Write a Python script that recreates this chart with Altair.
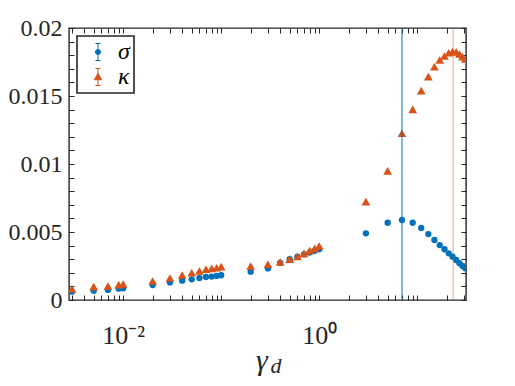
import altair as alt
import pandas as pd

# ---- data ----
gamma = [0.003, 0.005, 0.007, 0.009, 0.01,
         0.02, 0.03, 0.04, 0.05, 0.06, 0.07, 0.08, 0.09, 0.1,
         0.2, 0.3, 0.4, 0.5, 0.6, 0.7, 0.8, 0.9, 1.0,
         3, 5, 7, 9, 11, 13, 15, 17, 19, 21, 23, 25, 27, 29, 31]
sigma = [0.00061, 0.00068, 0.00074, 0.00083, 0.00086,
         0.00110, 0.00129, 0.00142, 0.00152, 0.00162, 0.00169, 0.00172, 0.00177, 0.00182,
         0.00208, 0.00232, 0.00272, 0.00300, 0.00318, 0.00335, 0.00348, 0.00362, 0.00373,
         0.00490, 0.00568, 0.00588, 0.00568, 0.00530, 0.00485, 0.00441, 0.00404, 0.00373,
         0.00343, 0.00318, 0.00294, 0.00270, 0.00250, 0.00233]
kappa = [0.00081, 0.00098, 0.00103, 0.00112, 0.00118,
         0.00140, 0.00162, 0.00184, 0.00200, 0.00213, 0.00226, 0.00233, 0.00237, 0.00245,
         0.00250, 0.00263, 0.00280, 0.00301, 0.00320, 0.00343, 0.00363, 0.00380, 0.00397,
         0.00723, 0.00949, 0.01226, 0.01402, 0.01539, 0.01642, 0.01715, 0.01765, 0.01794,
         0.01818, 0.01827, 0.01824, 0.01809, 0.01790, 0.01772]
series_names = ["σ", "κ"]
series_colors = ["#0072BD", "#D95319"]

vline_x = [7.0, 23.3]
vline_color = ["#0072BD", "#D95319"]
vline_opacity = [1.0, 0.5]

x_ticks = [0.003, 0.004, 0.005, 0.006, 0.007, 0.008, 0.009, 0.01,
           0.02, 0.03, 0.04, 0.05, 0.06, 0.07, 0.08, 0.09, 0.1,
           0.2, 0.3, 0.4, 0.5, 0.6, 0.7, 0.8, 0.9, 1,
           2, 3, 4, 5, 6, 7, 8, 9, 10, 20, 30]
y_ticks = [0, 0.001, 0.002, 0.003, 0.004, 0.005, 0.006, 0.007, 0.008, 0.009, 0.01,
           0.011, 0.012, 0.013, 0.014, 0.015, 0.016, 0.017, 0.018, 0.019, 0.02]

XDOM = [0.0028, 31.5]
YDOM = [0, 0.02]

df = pd.DataFrame({
    "gamma": gamma + gamma,
    "value": sigma + kappa,
    "series": [series_names[0]] * len(gamma) + [series_names[1]] * len(gamma),
})
df_sigma = pd.DataFrame({"gamma": gamma, "value": sigma})
df_kappa = pd.DataFrame({"gamma": gamma, "value": kappa})
vdf = pd.DataFrame({"gamma": vline_x, "c": vline_color, "o": vline_opacity})

FONT = "Liberation Serif"
AX = "#262626"
TS = 5

xscale = alt.Scale(type="log", domain=XDOM, nice=False)
yscale = alt.Scale(domain=YDOM, nice=False, zero=False)

x_bottom = alt.Axis(values=x_ticks, orient="bottom", offset=-TS,
                    labelExpr="datum.value == 0.01 ? '10⁻²' : (datum.value == 1 ? '10⁰' : '')",
                    tickSize=TS, tickColor=AX, tickWidth=1, domain=False, grid=False,
                    labelPadding=22, labelFont=FONT, labelFontSize=26, labelColor=AX,
                    labelOverlap=False, labelFlush=False, title=None)
y_left = alt.Axis(values=y_ticks, orient="left", offset=-TS,
                  labelExpr="round(datum.value * 1000) % 5 == 0 ? format(datum.value, '~g') : ''",
                  tickSize=TS, tickColor=AX, tickWidth=1, domain=False, grid=False,
                  labelPadding=7, labelFont=FONT, labelFontSize=24, labelColor=AX,
                  labelOverlap=False, labelFlush=False, title=None)
x_top = alt.Axis(values=x_ticks, orient="top", offset=-TS, labels=False, tickSize=TS,
                 tickColor=AX, tickWidth=1, domain=False, grid=False, title=None)
y_right = alt.Axis(values=y_ticks, orient="right", offset=-TS, labels=False, tickSize=TS,
                   tickColor=AX, tickWidth=1, domain=False, grid=False, title=None)

circles = alt.Chart(df_sigma).mark_point(
    filled=True, opacity=1, clip=True, shape="circle", size=40, color=series_colors[0]
).encode(
    x=alt.X("gamma:Q", scale=xscale, axis=x_bottom),
    y=alt.Y("value:Q", scale=yscale, axis=y_left),
)
triangles = alt.Chart(df_kappa).mark_point(
    filled=True, opacity=1, clip=True, shape="triangle-up", size=78, color=series_colors[1]
).encode(
    x=alt.X("gamma:Q", scale=xscale, axis=x_bottom),
    y=alt.Y("value:Q", scale=yscale, axis=y_left),
)

rules = alt.Chart(vdf).mark_rule(strokeWidth=1).encode(
    x=alt.X("gamma:Q", scale=xscale, axis=x_bottom),
    color=alt.Color("c:N", scale=None),
    opacity=alt.Opacity("o:Q", scale=None),
)

path_sigma = "M0,-1L0,1M-0.3,-1L0.3,-1M-0.3,1L0.3,1M0.3,0A0.3,0.3,0,1,1,-0.3,0A0.3,0.3,0,1,1,0.3,0Z"
path_kappa = "M0,-1L0,1M-0.3,-1L0.3,-1M-0.3,1L0.3,1M0,-0.42L0.44,0.32L-0.44,0.32Z"

leg = dict(title=None, orient="top-left", offset=8, padding=4, rowPadding=1,
           symbolSize=289, symbolStrokeWidth=1, symbolOffset=5, labelOffset=8, symbolOpacity=1,
           labelFont=FONT, labelFontSize=24, labelFontStyle="italic", labelColor="black",
           strokeColor=AX, fillColor="white")

frame = alt.Chart(df).transform_filter("false").mark_point(filled=True, opacity=1, strokeWidth=1).encode(
    x=alt.X("gamma:Q", scale=xscale, axis=x_top),
    y=alt.Y("value:Q", scale=yscale, axis=y_right),
    shape=alt.Shape("series:N", scale=alt.Scale(domain=series_names, range=[path_sigma, path_kappa]),
                    legend=alt.Legend(**leg)),
    fill=alt.Fill("series:N", scale=alt.Scale(domain=series_names, range=series_colors),
                  legend=alt.Legend(**leg)),
    stroke=alt.Stroke("series:N", scale=alt.Scale(domain=series_names, range=series_colors),
                      legend=alt.Legend(**leg)),
)

# x-axis title: gamma with subscript d
title_df = pd.DataFrame({"t": ["γ"]})
title_main = alt.Chart(title_df).mark_text(
    font=FONT, fontSize=30, fontStyle="italic", color=AX, baseline="alphabetic", align="center"
).encode(x=alt.value(193), y=alt.value(342), text="t:N")
sub = alt.Chart(pd.DataFrame({"t": ["d"]})).mark_text(
    font=FONT, fontSize=22, fontStyle="italic", color=AX, baseline="alphabetic", align="center"
).encode(x=alt.value(207), y=alt.value(345), text="t:N")

chart = alt.layer(alt.layer(circles, triangles, rules), frame, title_main, sub).resolve_scale(
    x="independent", y="independent"
).properties(
    width=397, height=272,
    padding={"left": 61, "top": 20, "right": 35, "bottom": 80},
    autosize=alt.AutoSizeParams(type="none"),
).configure_view(stroke=AX, strokeWidth=1.4).configure_legend(strokeWidth=1.6)

chart.save("out.html", embed_options={"renderer": "svg", "actions": False})
